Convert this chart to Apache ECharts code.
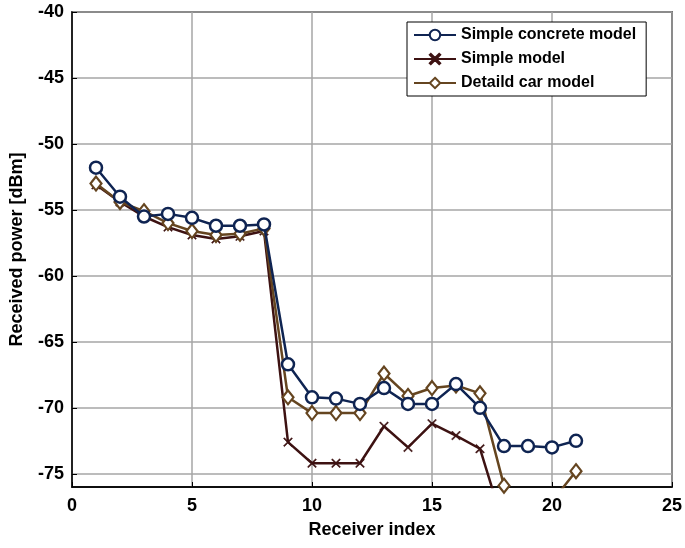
<!DOCTYPE html>
<html>
<head>
<meta charset="utf-8">
<script src="https://cdn.jsdelivr.net/npm/echarts@6/dist/echarts.min.js"></script>
<style>
html,body{margin:0;padding:0;background:#fff;}
#chart{width:685px;height:548px;}
</style>
</head>
<body>
<div id="chart"></div>
<script>
const receiverIndex = [1,2,3,4,5,6,7,8,9,10,11,12,13,14,15,16,17,18,19,20,21];
const simpleConcrete = [-51.8,-54.0,-55.5,-55.3,-55.6,-56.2,-56.2,-56.1,-66.7,-69.2,-69.3,-69.7,-68.5,-69.7,-69.7,-68.2,-70.0,-72.9,-72.9,-73.0,-72.5];
const simpleModel = [-53.1,-54.4,-55.5,-56.3,-56.9,-57.2,-57.0,-56.6,-72.6,-74.2,-74.2,-74.2,-71.4,-73.0,-71.2,-72.1,-73.1,-79.0,-80.0,-80.0,-79.5];
const detailedCar = [-53.0,-54.4,-55.1,-56.0,-56.6,-56.9,-56.8,-56.4,-69.2,-70.4,-70.4,-70.4,-67.4,-69.1,-68.5,-68.3,-68.9,-75.9,-78.0,-77.1,-74.8];
const seriesNames = ['Simple concrete model','Simple model','Detaild car model'];
const yTicks = [-75,-70,-65,-60,-55,-50,-45,-40];

const pair = arr => receiverIndex.map((x,i)=>[x,arr[i]]);
const font = 'Liberation Sans, Arial, sans-serif';
const cNavy = '#0f2452', cMaroon = '#3d1212', cBrown = '#654520';
const crossPath = 'path://M0,1L1,0L5,4L9,0L10,1L6,5L10,9L9,10L5,6L1,10L0,9L4,5Z';

const chart = echarts.init(document.getElementById('chart'));
chart.setOption({
  animation:false,
  backgroundColor:'#fff',
  grid:{left:69,top:12,right:13,bottom:61,show:true,borderColor:'#000',borderWidth:1.5,backgroundColor:'transparent'},
  legend:{
    orient:'vertical', left:407, top:22, width:230,
    padding:[5,10,5,6], itemGap:8, itemWidth:42, itemHeight:13,
    backgroundColor:'#fff', borderColor:'#000', borderWidth:1,
    textStyle:{fontFamily:font,fontSize:16,fontWeight:'bold',color:'#000'},
    data:seriesNames
  },
  xAxis:{
    type:'value', min:0, max:25, interval:5,
    name:'Receiver index', nameLocation:'middle', nameGap:34,
    nameTextStyle:{fontFamily:font,fontSize:18,fontWeight:'bold',color:'#000'},
    axisLine:{show:true,lineStyle:{color:'#000',width:1.5}},
    axisTick:{show:true,inside:true,length:5,lineStyle:{color:'#000'}},
    axisLabel:{fontFamily:font,fontSize:18,fontWeight:'bold',color:'#000',margin:10},
    splitLine:{show:true,lineStyle:{color:'#a6a6a6',width:1.5}}
  },
  yAxis:{
    type:'value', min:-76, max:-40,
    name:'Received power [dBm]', nameLocation:'middle', nameGap:46,
    nameTextStyle:{fontFamily:font,fontSize:18,fontWeight:'bold',color:'#000'},
    axisLine:{show:true,lineStyle:{color:'#000',width:1.5}},
    axisTick:{show:true,inside:true,length:5,lineStyle:{color:'#000'},customValues:yTicks},
    axisLabel:{fontFamily:font,fontSize:18,fontWeight:'bold',color:'#000',margin:8,customValues:yTicks},
    splitLine:{show:true,lineStyle:{color:'#a6a6a6',width:1.5}}
  },
  series:[
    {name:seriesNames[0],type:'line',data:pair(simpleConcrete),clip:true,
     symbol:'circle',symbolSize:12,z:4,
     lineStyle:{color:cNavy,width:2.5},
     itemStyle:{color:'#fff',borderColor:cNavy,borderWidth:2.5}},
    {name:seriesNames[1],type:'line',data:pair(simpleModel),clip:true,
     symbol:crossPath,symbolSize:9,z:3,
     lineStyle:{color:cMaroon,width:2.5},
     itemStyle:{color:cMaroon,borderColor:cMaroon,borderWidth:0.5}},
    {name:seriesNames[2],type:'line',data:pair(detailedCar),clip:true,
     symbol:'diamond',symbolSize:[11,14],z:3,
     lineStyle:{color:cBrown,width:2.5},
     itemStyle:{color:'#fff',borderColor:cBrown,borderWidth:2.2}}
  ]
});
</script>
</body>
</html>
